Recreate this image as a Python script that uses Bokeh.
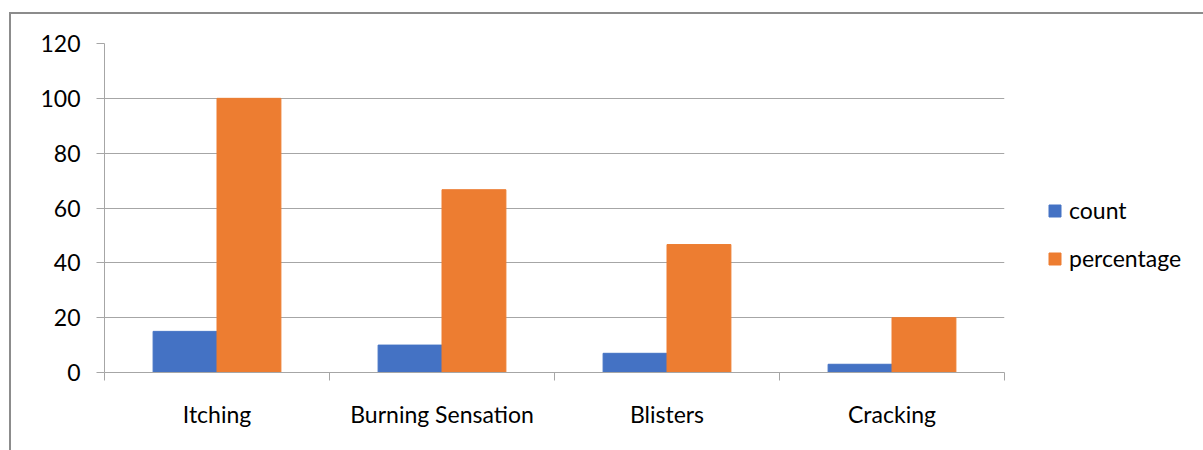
from bokeh.plotting import figure
from bokeh.models import (ColumnDataSource, Range1d, FixedTicker,
                          Legend, LegendItem, InlineStyleSheet)
from bokeh.transform import dodge
from bokeh.embed import file_html
from bokeh.resources import INLINE

categories = ["Itching", "Burning Sensation", "Blisters", "Cracking"]
count = [15, 10, 7, 3]
percentage = [100, 66.67, 46.67, 20]
y_ticks = [0, 20, 40, 60, 80, 100, 120]

FONT = "Lato"
FS = "23px"
GRID = "#a6a6a6"

n = len(categories)
centres = [i + 0.5 for i in range(n)]          # category slot centres
src = ColumnDataSource(dict(cat=categories, pos=centres, count=count, percentage=percentage))

p = figure(frame_width=900, frame_height=329, x_range=Range1d(0, n),
           y_range=Range1d(0, 120), output_backend="svg", toolbar_location=None,
           min_border_left=104, min_border_right=199,
           min_border_top=43, min_border_bottom=78)
p.outline_line_color = None
p.xgrid.visible = False

r1 = p.vbar(x=dodge("pos", -0.142), top="count", width=0.284,
            source=src, color="#4472C4")
r2 = p.vbar(x=dodge("pos", 0.142), top="percentage", width=0.284,
            source=src, color="#ED7D31")

# y axis
ya = p.yaxis[0]
ya.ticker = FixedTicker(ticks=y_ticks)
ya.axis_line_color = GRID
ya.major_tick_line_color = GRID
ya.major_tick_out = 8
ya.major_tick_in = 0
ya.minor_tick_line_color = None
ya.major_label_standoff = 16
ya.major_label_text_font = FONT
ya.major_label_text_font_size = FS
ya.major_label_text_color = "#000000"
p.ygrid.ticker = FixedTicker(ticks=y_ticks)
p.ygrid.grid_line_color = GRID
p.ygrid.grid_line_width = 1.2

# x axis: ticks at category boundaries, labels at centres
xa = p.xaxis[0]
xa.ticker = FixedTicker(ticks=centres, minor_ticks=list(range(n + 1)))
xa.major_label_overrides = {c: lab for c, lab in zip(centres, categories)}
xa.major_tick_out = 0
xa.major_tick_in = 0
xa.major_tick_line_color = None
xa.minor_tick_out = 8
xa.minor_tick_in = 0
xa.minor_tick_line_color = GRID
xa.axis_line_color = GRID
xa.axis_line_width = 1.2
xa.major_label_standoff = 19
xa.major_label_text_font = FONT
xa.major_label_text_font_size = FS
xa.major_label_text_color = "#000000"

legend = Legend(items=[LegendItem(label="count", renderers=[r1]),
                       LegendItem(label="percentage", renderers=[r2])],
                location=(43, 100), padding=0, margin=0, spacing=20,
                label_height=24, glyph_width=15, glyph_height=15, label_standoff=7,
                label_text_font=FONT, label_text_font_size=FS, label_text_color="#000000",
                border_line_color=None, background_fill_alpha=0)
p.add_layout(legend, "right")

# chart-area border (left and top edges visible; the rest runs off the page)
p.stylesheets = [InlineStyleSheet(css="""
:host::after {
  content: "";
  position: absolute;
  left: 9px; top: 12px; width: 1400px; height: 800px;
  border: 2px solid #8c8c8c;
  pointer-events: none;
  box-sizing: border-box;
}
""")]

open("out.html", "w").write(file_html(p, INLINE))
